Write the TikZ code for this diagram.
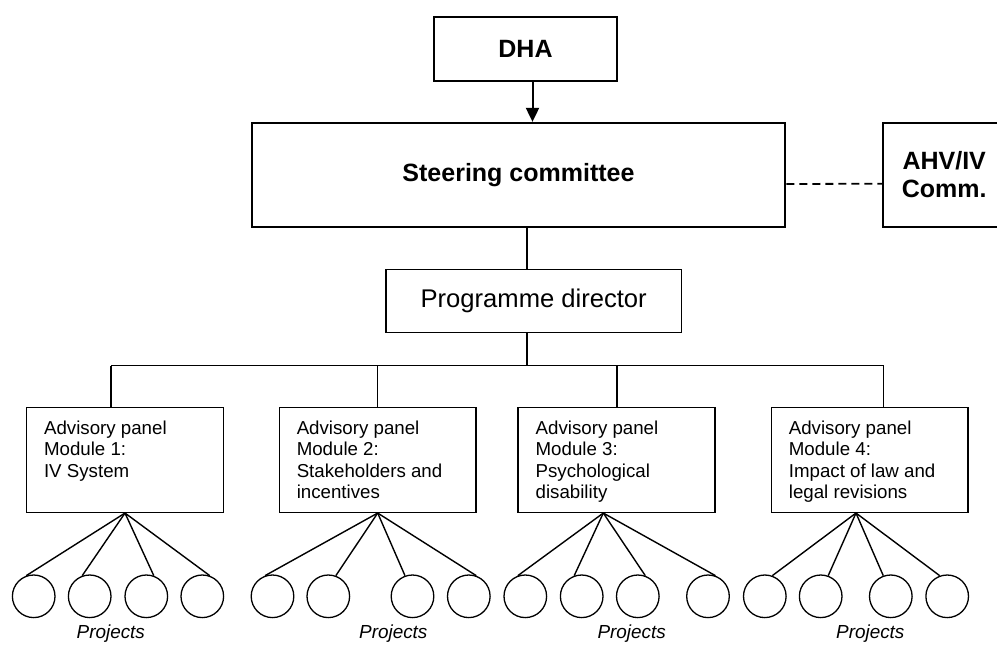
\documentclass[tikz,border=0pt]{standalone}
\usepackage{fontspec}
\setmainfont{Liberation Sans}
\usetikzlibrary{arrows.meta,calc}
\begin{document}
\begin{tikzpicture}[x=1pt,y=-1pt,
  box/.style={draw,line width=1.5pt,inner sep=0pt},
  bigbox/.style={draw,line width=1.8pt,inner sep=0pt},
  proj/.style={draw,circle,line width=1.3pt,minimum size=42.6pt,inner sep=0pt},
  link/.style={line width=1.4pt},
  big/.style={font=\fontsize{25}{27.5}\selectfont\bfseries},
  mid/.style={font=\fontsize{25.6}{28}\selectfont},
  small/.style={font=\fontsize{18.7}{21.4}\selectfont,inner sep=0pt,anchor=base west},
  lbl/.style={font=\fontsize{18.9}{21}\selectfont\itshape,inner sep=0pt,anchor=base}
]
\useasboundingbox (0,0) rectangle (997,646);

% top boxes
\node[bigbox,big,minimum width=183pt,minimum height=63.4pt] (dha) at (525.5,49) {DHA};
\node[bigbox,big,minimum width=533.7pt,minimum height=104.5pt] (steer) at (518.5,175) {Steering committee};
\node[bigbox,big,align=center,minimum width=121.7pt,minimum height=104pt] (ahv) at (944.2,174.7) {AHV/IV\\Comm.};
\node[box,mid,minimum width=295.5pt,minimum height=63pt] (pd) at (533.7,300.8) {Programme director};

% module boxes
\node[box,minimum width=196.8pt,minimum height=104.6pt] (m1) at (125,460) {};
\node[box,minimum width=196.8pt,minimum height=104.6pt] (m2) at (377.7,460) {};
\node[box,minimum width=196.8pt,minimum height=104.6pt] (m3) at (616.6,460) {};
\node[box,minimum width=196.8pt,minimum height=104.6pt] (m4) at (869.8,460) {};

\node[small] (t1) at ($(m1.north west)+(18,27.3)$) {\parbox[t]{180pt}{Advisory panel\\Module 1:\\IV System}};
\node[small] (t2) at ($(m2.north west)+(18,27.3)$) {\parbox[t]{180pt}{Advisory panel\\Module 2:\\Stakeholders and\\incentives}};
\node[small] (t3) at ($(m3.north west)+(18,27.3)$) {\parbox[t]{180pt}{Advisory panel\\Module 3:\\Psychological\\disability}};
\node[small] (t4) at ($(m4.north west)+(18,27.3)$) {\parbox[t]{180pt}{Advisory panel\\Module 4:\\Impact of law and\\legal revisions}};

% connectors top
\coordinate (ax) at (532.5,0);
\draw[line width=2pt,-{Triangle[length=14pt,width=13pt]}] (ax |- dha.south) -- (ax |- steer.north);
\draw[line width=1.8pt,dash pattern=on 8pt off 5pt] ([yshift=-9pt]steer.east) -- ([yshift=-9pt]ahv.west);

\coordinate (sx) at (527,0);
\coordinate (b1) at (111,365.7);
\coordinate (b2) at (377.7,365.7);
\coordinate (b3) at (617,365.7);
\coordinate (b4) at (883.7,365.7);
\draw[link] (sx |- steer.south) -- (sx |- pd.north);
\draw[link] (sx |- pd.south) -- (sx |- b1);
\draw[link] (b1) -- (b4);
\draw[link] (b1) -- (b1 |- m1.north);
\draw[link] (b2) -- (b2 |- m2.north);
\draw[link] (b3) -- (b3 |- m3.north);
\draw[link] (b4) -- (b4 |- m4.north);

% apexes
\coordinate (a1) at (m1.south);
\coordinate (a2) at (m2.south);
\coordinate (a3) at ($(m3.south)+(-13.3,0)$);
\coordinate (a4) at ($(m4.south)+(-13.8,0)$);

% project circles
\node[proj] (c11) at (33.7,596.3) {};
\node[proj] (c12) at (89.7,596.3) {};
\node[proj] (c13) at (146.3,596.3) {};
\node[proj] (c14) at (202.3,596.3) {};
\node[proj] (c21) at (272.5,596.3) {};
\node[proj] (c22) at (328.3,596.3) {};
\node[proj] (c23) at (412.5,596.3) {};
\node[proj] (c24) at (468.8,596.3) {};
\node[proj] (c31) at (525.3,596.3) {};
\node[proj] (c32) at (581.7,596.3) {};
\node[proj] (c33) at (637.8,596.3) {};
\node[proj] (c34) at (708,596.3) {};
\node[proj] (c41) at (764.8,596.3) {};
\node[proj] (c42) at (820.7,596.3) {};
\node[proj] (c43) at (890.8,596.3) {};
\node[proj] (c44) at (947.2,596.3) {};

\draw[link] (a1) -- (c11.110);
\draw[link] (a1) -- (c12.110);
\draw[link] (a1) -- (c13.70);
\draw[link] (a1) -- (c14.70);
\draw[link] (a2) -- (c21.110);
\draw[link] (a2) -- (c22.70);
\draw[link] (a2) -- (c23.110);
\draw[link] (a2) -- (c24.70);
\draw[link] (a3) -- (c31.110);
\draw[link] (a3) -- (c32.110);
\draw[link] (a3) -- (c33.70);
\draw[link] (a3) -- (c34.70);
\draw[link] (a4) -- (c41.70);
\draw[link] (a4) -- (c42.70);
\draw[link] (a4) -- (c43.110);
\draw[link] (a4) -- (c44.110);

% labels
\node[lbl] (p1) at (110.8,638.5) {Projects};
\node[lbl] (p2) at (393.3,638.5) {Projects};
\node[lbl] (p3) at (631.7,638.5) {Projects};
\node[lbl] (p4) at (870.3,638.5) {Projects};
\end{tikzpicture}
\end{document}
